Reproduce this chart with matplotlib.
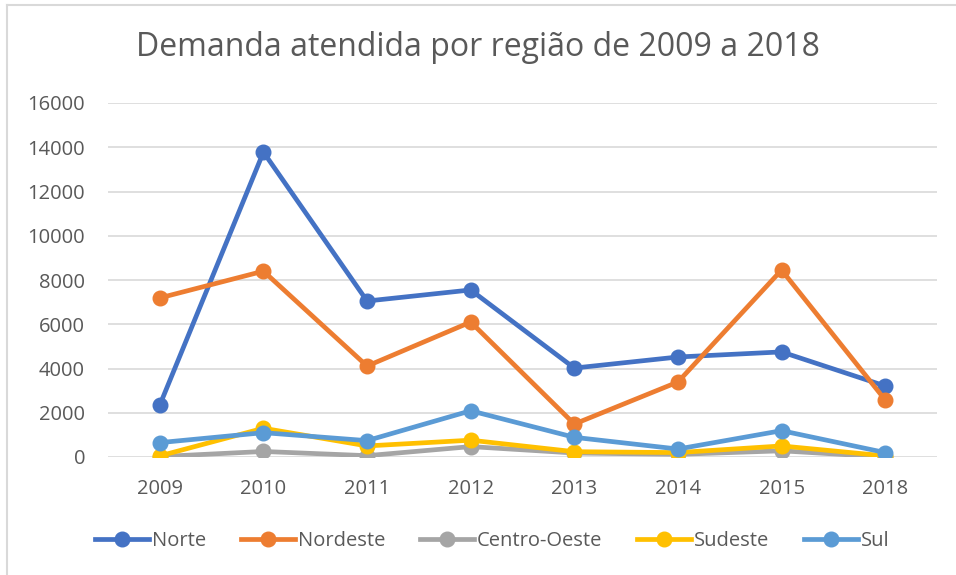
import matplotlib
matplotlib.use("Agg")
import matplotlib.pyplot as plt
from matplotlib.lines import Line2D

anos = ["2009", "2010", "2011", "2012", "2013", "2014", "2015", "2018"]
norte = [2350, 13780, 7050, 7550, 4020, 4520, 4750, 3210]
nordeste = [7190, 8400, 4110, 6100, 1490, 3390, 8450, 2580]
centro_oeste = [20, 250, 60, 470, 180, 120, 280, 0]
sudeste = [50, 1300, 500, 760, 240, 200, 500, 50]
sul = [650, 1100, 740, 2090, 890, 360, 1190, 200]

series = [
    ("Norte", norte, "#4472C4"),
    ("Nordeste", nordeste, "#ED7D31"),
    ("Centro-Oeste", centro_oeste, "#A5A5A5"),
    ("Sudeste", sudeste, "#FFC000"),
    ("Sul", sul, "#5B9BD5"),
]

plt.rcParams['font.family'] = ['Open Sans', 'DejaVu Sans']
txt = "#595959"

fig = plt.figure(figsize=(9.56, 5.75), dpi=100)
ax = fig.add_axes([108/956, 1-457/575, (937-108)/956, (457-103)/575])

x = list(range(len(anos)))
for name, vals, col in series:
    ax.plot(x, vals, color=col, lw=3.4, marker='o', ms=10.5, label=name,
            solid_capstyle='round', zorder=3)

ax.set_xlim(-0.5, len(anos) - 0.5)
ax.set_ylim(0, 16000)
ax.set_yticks(range(0, 16001, 2000))
ax.set_xticks(x)
ax.set_xticklabels(anos)
ax.grid(axis='y', color='#D9D9D9', lw=1.2, zorder=0)
for s in ax.spines.values():
    s.set_visible(False)
ax.tick_params(axis='both', length=0, labelsize=14.5, colors=txt)
ax.tick_params(axis='x', pad=16)
ax.tick_params(axis='y', pad=16.5)

fig.text(0.5, 1-48/575, "Demanda atendida por região de 2009 a 2018",
         ha='center', va='center', fontsize=23, color=txt)

handles = [Line2D([0], [0], color=c, lw=3.4, marker='o', ms=10.5) for _, _, c in series]
fig.legend(handles, [n for n, _, _ in series], loc='center',
           bbox_to_anchor=(0.515, 1-541/575), ncol=5, frameon=False,
           fontsize=14.5, labelcolor=txt, handlelength=2.7, handletextpad=0.15,
           columnspacing=1.7)

# chart border (top and left visible)
fig.add_artist(Line2D([7/956, 1], [1-4.5/575, 1-4.5/575], color='#D9D9D9', lw=1.5))
fig.add_artist(Line2D([7/956, 7/956], [0, 1-4.5/575], color='#D9D9D9', lw=1.5))

fig.savefig("out.png", dpi=100, facecolor='white')
